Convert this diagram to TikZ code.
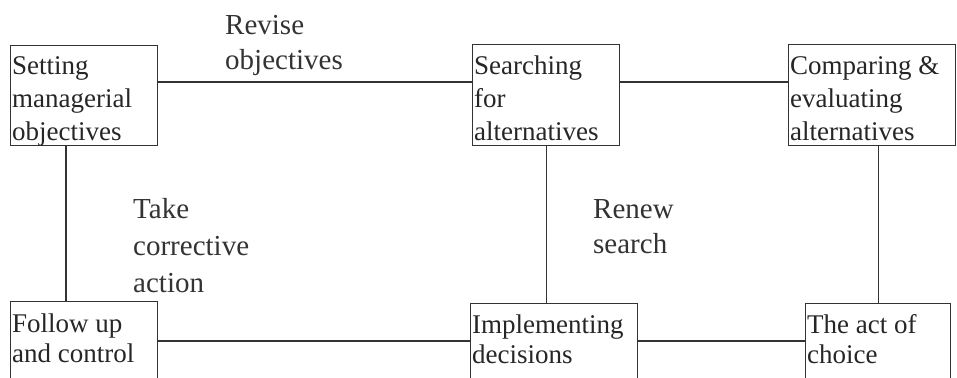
\documentclass[tikz,border=0pt]{standalone}
\usepackage{fontspec}
\setmainfont{Liberation Serif}
\usetikzlibrary{calc}
\begin{document}
\begin{tikzpicture}[x=1pt,y=-1pt,
  stage/.style={draw=black!80, line width=1.1pt, anchor=north west, inner sep=0pt},
  stagetext/.style={anchor=base west, inner sep=0pt, align=left,
    font=\fontsize{27}{33}\selectfont, text=black!85},
  lowtext/.style={stagetext, font=\fontsize{27}{30}\selectfont},
  note/.style={anchor=base west, inner sep=0pt, align=left,
    font=\fontsize{29}{37}\selectfont, text=black!80},
  link/.style={draw=black!80, line width=1.1pt}]
\useasboundingbox (0,0) rectangle (957,377);
\clip (0,0) rectangle (957,377);

% top row of stages
\node[stage, minimum width=147, minimum height=100] (set) at (10,45) {};
\node[stage, minimum width=147, minimum height=101] (search) at (472,44) {};
\node[stage, minimum width=167, minimum height=101] (comp) at (788,44) {};
% bottom row of stages (running past the lower edge)
\node[stage, minimum width=147, minimum height=110] (follow) at (10,301) {};
\node[stage, minimum width=167, minimum height=110] (impl) at (470,303) {};
\node[stage, minimum width=145, minimum height=110] (act) at (805,303) {};

% stage texts (anchored at the baseline of their last line)
\node[stagetext] (set-t) at ([xshift=2,yshift=-95]set.north west) {Setting\\managerial\\objectives};
\node[stagetext] (search-t) at ([xshift=2,yshift=-96]search.north west) {Searching\\for\\alternatives};
\node[stagetext] (comp-t) at ([xshift=2,yshift=-96]comp.north west) {Comparing \&\\evaluating\\alternatives};
\node[lowtext] (follow-t) at ([xshift=2,yshift=-61]follow.north west) {Follow up\\and control};
\node[lowtext] (impl-t) at ([xshift=2,yshift=-60]impl.north west) {Implementing\\decisions};
\node[lowtext] (act-t) at ([xshift=2,yshift=-60]act.north west) {The act of\\choice};

% connectors
\draw[link] ([yshift=-37]set.north east) -- ([yshift=-38]search.north west);
\draw[link] ([yshift=-38]search.north east) -- ([yshift=-38]comp.north west);
\draw[link] ([xshift=56]set.south west) -- ([xshift=56]follow.north west);
\draw[link] (search.south) -- (search.south |- impl.north);
\draw[link] (comp.south -| act.north) -- (act.north);
\draw[link] ([yshift=-40]follow.north east) -- ([yshift=-38]impl.north west);
\draw[link] ([yshift=-38]impl.north east) -- ([yshift=-38]act.north west);

% loop labels
\node[note, font=\fontsize{29}{35}\selectfont] (revise) at (225,70) {Revise\\objectives};
\node[note] (take) at (133,292) {Take\\corrective\\action};
\node[note, font=\fontsize{29}{35}\selectfont] (renew) at (593,253) {Renew\\search};
\end{tikzpicture}
\end{document}
